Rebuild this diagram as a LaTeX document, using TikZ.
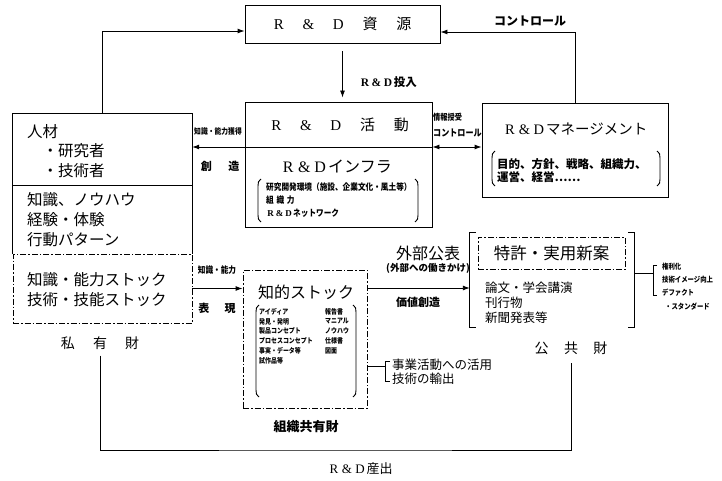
\documentclass[tikz,border=0pt]{standalone}
\usepackage{fontspec}
\setmainfont{Noto Sans CJK JP}
\newfontfamily\jpc[FakeStretch=0.85]{Noto Sans CJK JP}
\newfontfamily\lat{Liberation Serif}
\usetikzlibrary{arrows.meta}
\newcommand\fz[1]{\fontsize{#1}{#1}\selectfont}
\newcommand\fw[1]{\makebox[1em]{\lat #1}}
\newcommand\Lpar[3]{\draw[pline] (#1+3,#2) to[out=200,in=90] (#1,#2+7) -- (#1,#3-7) to[out=-90,in=160] (#1+3,#3);}
\newcommand\Rpar[3]{\draw[pline] (#1-3,#2) to[out=-20,in=90] (#1,#2+7) -- (#1,#3-7) to[out=-90,in=20] (#1-3,#3);}
\begin{document}
\begin{tikzpicture}[x=1pt,y=-1pt,
  ln/.style={line width=0.9pt},
  pline/.style={line width=0.9pt},
  box/.style={draw,line width=0.9pt,inner sep=0pt},
  dd/.style={draw,line width=0.9pt,dash pattern=on 6pt off 2pt on 1.5pt off 2pt,inner sep=0pt},
  arr/.style={ln,-{Latex[length=7pt,width=5pt]}},
  arrb/.style={ln,{Latex[length=7pt,width=5pt]}-{Latex[length=7pt,width=5pt]}},
  t/.style={inner sep=0pt,anchor=west},
  c/.style={inner sep=0pt}]

\fill[white] (0,0) rectangle (722,481);
\useasboundingbox (0,0) rectangle (722,481);

% R&D resources
\node[box,minimum width=195pt,minimum height=38pt,font=\fz{15}] (res) at (342.5,24)
  {{\lat R}\hspace{1.25em}{\lat\&}\hspace{1.25em}{\lat D}\hspace{1.25em}資\hspace{1.25em}源};

% R&D activity
\node[box,minimum width=187pt,minimum height=125pt] (act) at (338.5,164.5) {};
\node[c,font=\fz{15}] (actt) at (340,125)
  {{\lat R}\hspace{1.25em}{\lat\&}\hspace{1.25em}{\lat D}\hspace{1.25em}活\hspace{1.25em}動};
\coordinate (ydiv) at (0,147);
\draw[ln] (act.west |- ydiv) -- (act.east |- ydiv);
\node[c,font=\fz{16}] (infra) at (336,167) {\fw R\fw\&\fw Dインフラ};
\node[t,font=\jpc\bfseries\fz{9}] (inf1) at (266,187) {研究開発環境（施設、企業文化・風土等）};
\node[t,font=\jpc\bfseries\fz{9}] (inf2) at (266,200) {組\hspace{.3em}織\hspace{.3em}力};
\node[t,font=\jpc\bfseries\fz{9}] (inf3) at (266,213) {\fw R\fw\&\fw Dネットワーク};
\Lpar{258}{179}{222}
\Rpar{418}{179}{222}

% R&D management
\node[box,minimum width=186pt,minimum height=94pt] (mgmt) at (575,150) {};
\node[c,font=\fz{14.5}] (mgmtt) at (575,129) {\fw R\fw\&\fw Dマネージメント};
\node[t,font=\bfseries\fz{11.5}] (mg1) at (497,164) {目的、方針、戦略、組織力、};
\node[t,font=\bfseries\fz{11.5}] (mg2) at (497,177) {運営、経営……};
\Lpar{492}{151}{186}
\Rpar{660}{151}{186}

% left box (private goods)
\node[inner sep=0pt,minimum width=179pt,minimum height=140pt] (jin) at (102.5,184) {};
\draw[ln] (jin.south west) -- (jin.north west) -- (jin.north east) -- (jin.south east);
\coordinate (ydiv2) at (0,185);
\draw[ln] (jin.west |- ydiv2) -- (jin.east |- ydiv2);
\node[dd,minimum width=179pt,minimum height=69pt] (stk) at (102.5,288.5) {};
\node[t,font=\fz{15.5}] (j1) at (27,132) {人材};
\node[t,font=\fz{15.5}] (j2) at (27,151) {\hspace{1em}・研究者};
\node[t,font=\fz{15.5}] (j3) at (27,171) {\hspace{1em}・技術者};
\node[t,font=\fz{15.5}] (j4) at (27,200) {知識、ノウハウ};
\node[t,font=\fz{15.5}] (j5) at (27,220) {経験・体験};
\node[t,font=\fz{15.5}] (j6) at (27,240) {行動パターン};
\node[t,font=\fz{15.5}] (j7) at (27,280) {知識・能力ストック};
\node[t,font=\fz{15.5}] (j8) at (27,300) {技術・技能ストック};
\node[c,font=\fz{14}] (shiyu) at (100,343) {私\hspace{1.3em}有\hspace{1.3em}財};

% intellectual stock
\node[dd,minimum width=124pt,minimum height=138pt] (chi) at (305,339) {};
\node[c,font=\fz{16}] (chit) at (306,292) {知的ストック};
\node[t,font=\jpc\bfseries\fz{7}] (c1) at (259,312) {アイディア};
\node[t,font=\jpc\bfseries\fz{7}] (c2) at (259,321.5) {発見・発明};
\node[t,font=\jpc\bfseries\fz{7}] (c3) at (259,331) {製品コンセプト};
\node[t,font=\jpc\bfseries\fz{7}] (c4) at (259,341) {プロセスコンセプト};
\node[t,font=\jpc\bfseries\fz{7}] (c5) at (259,351) {事実・データ等};
\node[t,font=\jpc\bfseries\fz{7}] (c6) at (259,361) {試作品等};
\node[t,font=\jpc\bfseries\fz{7}] (d1) at (325,312) {報告書};
\node[t,font=\jpc\bfseries\fz{7}] (d2) at (325,321.5) {マニアル};
\node[t,font=\jpc\bfseries\fz{7}] (d3) at (325,331) {ノウハウ};
\node[t,font=\jpc\bfseries\fz{7}] (d4) at (325,341) {仕様書};
\node[t,font=\jpc\bfseries\fz{7}] (d5) at (325,351) {図面};
\Lpar{256}{305}{397}
\Rpar{356}{305}{397}
\node[c,font=\bfseries\fz{13}] (soshiki) at (306,427) {組織共有財};

% arrow stock -> intellectual stock
\draw[arr] (stk.east) -- (stk.east -| chi.west);
\node[c,font=\jpc\bfseries\fz{9}] (lab3) at (217,270) {知識・能力};
\node[c,font=\bfseries\fz{11}] (lab4) at (217,308) {表\hspace{1.4em}現};

% public goods
\node[inner sep=0pt,minimum width=164pt,minimum height=94pt] (pub) at (552,280) {};
\draw[ln] ([xshift=6pt]pub.north west) -- (pub.north west) -- (pub.south west) -- ([xshift=6pt]pub.south west);
\draw[ln] ([xshift=-6pt]pub.north east) -- (pub.north east) -- (pub.south east) -- ([xshift=-6pt]pub.south east);
\node[dd,minimum width=147pt,minimum height=32pt,font=\fz{16.5}] (pat) at (551.5,253) {特許・実用新案};
\node[t,font=\fz{12.5}] (p1) at (485,288) {論文・学会講演};
\node[t,font=\fz{12.5}] (p2) at (485,303) {刊行物};
\node[t,font=\fz{12.5}] (p3) at (485,318) {新聞発表等};
\node[c,font=\fz{14}] (kokyo) at (571,348) {公\hspace{1.1em}共\hspace{1.1em}財};

\coordinate (yv) at (0,288);
\draw[arr] (chi.east |- yv) -- (pub.west |- yv);
\node[c,font=\fz{16}] (gai) at (428,253) {外部公表};
\node[c,font=\bfseries\fz{9.5}] (gai2) at (428,268) {(外部への働きかけ)};
\node[c,font=\bfseries\fz{11}] (kachi) at (418,302) {価値創造};

% right bracket labels
\coordinate (yr) at (0,273);
\coordinate (rbk) at (653,273);
\draw[ln] (pub.east |- yr) -- (rbk);
\draw[ln] (657,265) -- (653,265) -- (653,295) -- (657,295);
\node[t,font=\jpc\bfseries\fz{7.5}] (r1) at (662,267) {権利化};
\node[t,font=\jpc\bfseries\fz{7.5}] (r2) at (662,280) {技術イメージ向上};
\node[t,font=\jpc\bfseries\fz{7.5}] (r3) at (662,293) {デファクト};
\node[t,font=\jpc\bfseries\fz{7.5}] (r4) at (665,307) {・スタンダード};

% business use bracket
\coordinate (jb) at (385,366);
\draw[ln] (chi.east |- jb) -- (jb);
\draw[ln] (390,361) -- (385,361) -- (385,381) -- (390,381);
\node[t,font=\fz{12.5}] (b1) at (392,365) {事業活動への活用};
\node[t,font=\fz{12.5}] (b2) at (392,379) {技術の輸出};

% top connectors
\draw[arr] (jin.north) |- ([yshift=-7pt]res.west);
\draw[arr] (mgmt.north) |- ([yshift=-8pt]res.east);
\node[c,font=\bfseries\fz{12}] (ctl) at (530,21) {コントロール};
\draw[arr,shorten <=8pt,shorten >=4pt] (res.south) -- (res.south |- act.north);
\node[c,font=\bfseries\fz{11.5}] (toun) at (388,82) {\fw R\fw\&\fw D投入};

% middle connectors
\draw[arr] (act.west |- ydiv) -- (jin.east |- ydiv);
\draw[arrb] (act.east |- ydiv) -- (mgmt.west |- ydiv);
\node[c,font=\jpc\bfseries\fz{8}] (k1) at (218,131) {知識・能力獲得};
\node[c,font=\bfseries\fz{11}] (k2) at (220,166) {創\hspace{1.5em}造};
\node[t,font=\jpc\bfseries\fz{8.5}] (h1) at (433,117) {情報授受};
\node[t,font=\jpc\bfseries\fz{9.5}] (h2) at (433,133) {コントロール};

% bottom frame
\coordinate (bot) at (335,450);
\draw[ln,shorten <=6pt,shorten >=8pt] (shiyu.south) |- (bot) -| (kokyo.south);
\node[c,font=\fz{13}] (sanshutsu) at (360,469) {\fw R\fw\&\fw D産出};
\end{tikzpicture}
\end{document}
